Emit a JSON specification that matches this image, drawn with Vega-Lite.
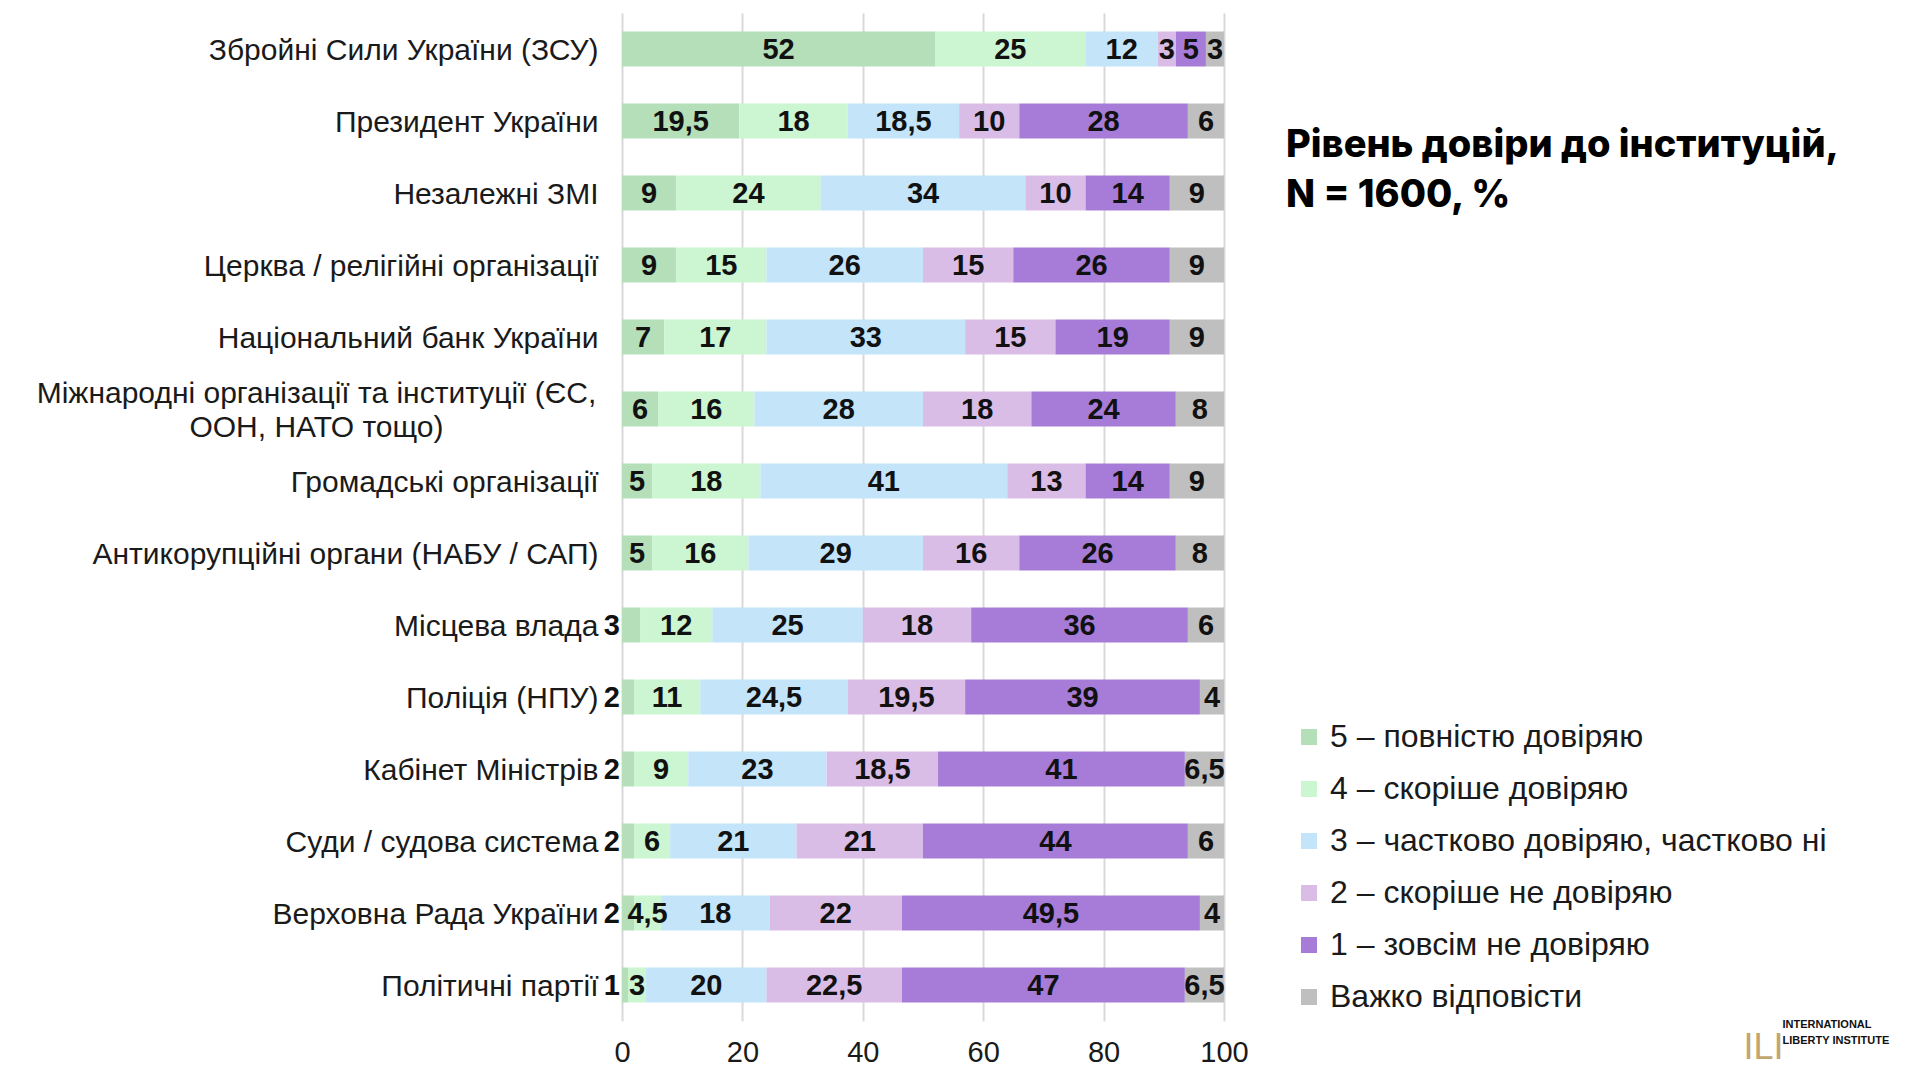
{
  "$schema": "https://vega.github.io/schema/vega-lite/v6.json",
  "autosize": {"type": "none"},
  "padding": {"left": 622, "top": 13, "right": 696, "bottom": 59},
  "width": 602,
  "height": 1008,
  "background": "white",
  "config": {
    "locale": {"number": {"decimal": ",", "thousands": "\u00a0", "grouping": [3], "currency": ["", " ₴"]}},
    "view": {"stroke": null},
    "font": "Liberation Sans"
  },
  "title": {
    "text": ["Рівень довіри до інституцій,", "N = 1600, %"],
    "anchor": "start",
    "frame": "group",
    "orient": "top",
    "baseline": "top",
    "offset": 0,
    "dx": 664,
    "dy": 202,
    "font": "Inter",
    "fontSize": 38,
    "fontWeight": 800,
    "lineHeight": 50,
    "color": "#000000"
  },
  "data": {
    "values": [
      {"inst": "Збройні Сили України (ЗСУ)", "level": "5 – повністю довіряю", "code": 5, "value": 52},
      {"inst": "Збройні Сили України (ЗСУ)", "level": "4 – скоріше довіряю", "code": 4, "value": 25},
      {"inst": "Збройні Сили України (ЗСУ)", "level": "3 – частково довіряю, частково ні", "code": 3, "value": 12},
      {"inst": "Збройні Сили України (ЗСУ)", "level": "2 – скоріше не довіряю", "code": 2, "value": 3},
      {"inst": "Збройні Сили України (ЗСУ)", "level": "1 – зовсім не довіряю", "code": 1, "value": 5},
      {"inst": "Збройні Сили України (ЗСУ)", "level": "Важко відповісти", "code": 0, "value": 3},

      {"inst": "Президент України", "level": "5 – повністю довіряю", "code": 5, "value": 19.5},
      {"inst": "Президент України", "level": "4 – скоріше довіряю", "code": 4, "value": 18},
      {"inst": "Президент України", "level": "3 – частково довіряю, частково ні", "code": 3, "value": 18.5},
      {"inst": "Президент України", "level": "2 – скоріше не довіряю", "code": 2, "value": 10},
      {"inst": "Президент України", "level": "1 – зовсім не довіряю", "code": 1, "value": 28},
      {"inst": "Президент України", "level": "Важко відповісти", "code": 0, "value": 6},

      {"inst": "Незалежні ЗМІ", "level": "5 – повністю довіряю", "code": 5, "value": 9},
      {"inst": "Незалежні ЗМІ", "level": "4 – скоріше довіряю", "code": 4, "value": 24},
      {"inst": "Незалежні ЗМІ", "level": "3 – частково довіряю, частково ні", "code": 3, "value": 34},
      {"inst": "Незалежні ЗМІ", "level": "2 – скоріше не довіряю", "code": 2, "value": 10},
      {"inst": "Незалежні ЗМІ", "level": "1 – зовсім не довіряю", "code": 1, "value": 14},
      {"inst": "Незалежні ЗМІ", "level": "Важко відповісти", "code": 0, "value": 9},

      {"inst": "Церква / релігійні організації", "level": "5 – повністю довіряю", "code": 5, "value": 9},
      {"inst": "Церква / релігійні організації", "level": "4 – скоріше довіряю", "code": 4, "value": 15},
      {"inst": "Церква / релігійні організації", "level": "3 – частково довіряю, частково ні", "code": 3, "value": 26},
      {"inst": "Церква / релігійні організації", "level": "2 – скоріше не довіряю", "code": 2, "value": 15},
      {"inst": "Церква / релігійні організації", "level": "1 – зовсім не довіряю", "code": 1, "value": 26},
      {"inst": "Церква / релігійні організації", "level": "Важко відповісти", "code": 0, "value": 9},

      {"inst": "Національний банк України", "level": "5 – повністю довіряю", "code": 5, "value": 7},
      {"inst": "Національний банк України", "level": "4 – скоріше довіряю", "code": 4, "value": 17},
      {"inst": "Національний банк України", "level": "3 – частково довіряю, частково ні", "code": 3, "value": 33},
      {"inst": "Національний банк України", "level": "2 – скоріше не довіряю", "code": 2, "value": 15},
      {"inst": "Національний банк України", "level": "1 – зовсім не довіряю", "code": 1, "value": 19},
      {"inst": "Національний банк України", "level": "Важко відповісти", "code": 0, "value": 9},

      {"inst": "Міжнародні організації та інституції (ЄС, ООН, НАТО тощо)", "level": "5 – повністю довіряю", "code": 5, "value": 6},
      {"inst": "Міжнародні організації та інституції (ЄС, ООН, НАТО тощо)", "level": "4 – скоріше довіряю", "code": 4, "value": 16},
      {"inst": "Міжнародні організації та інституції (ЄС, ООН, НАТО тощо)", "level": "3 – частково довіряю, частково ні", "code": 3, "value": 28},
      {"inst": "Міжнародні організації та інституції (ЄС, ООН, НАТО тощо)", "level": "2 – скоріше не довіряю", "code": 2, "value": 18},
      {"inst": "Міжнародні організації та інституції (ЄС, ООН, НАТО тощо)", "level": "1 – зовсім не довіряю", "code": 1, "value": 24},
      {"inst": "Міжнародні організації та інституції (ЄС, ООН, НАТО тощо)", "level": "Важко відповісти", "code": 0, "value": 8},

      {"inst": "Громадські організації", "level": "5 – повністю довіряю", "code": 5, "value": 5},
      {"inst": "Громадські організації", "level": "4 – скоріше довіряю", "code": 4, "value": 18},
      {"inst": "Громадські організації", "level": "3 – частково довіряю, частково ні", "code": 3, "value": 41},
      {"inst": "Громадські організації", "level": "2 – скоріше не довіряю", "code": 2, "value": 13},
      {"inst": "Громадські організації", "level": "1 – зовсім не довіряю", "code": 1, "value": 14},
      {"inst": "Громадські організації", "level": "Важко відповісти", "code": 0, "value": 9},

      {"inst": "Антикорупційні органи (НАБУ / САП)", "level": "5 – повністю довіряю", "code": 5, "value": 5},
      {"inst": "Антикорупційні органи (НАБУ / САП)", "level": "4 – скоріше довіряю", "code": 4, "value": 16},
      {"inst": "Антикорупційні органи (НАБУ / САП)", "level": "3 – частково довіряю, частково ні", "code": 3, "value": 29},
      {"inst": "Антикорупційні органи (НАБУ / САП)", "level": "2 – скоріше не довіряю", "code": 2, "value": 16},
      {"inst": "Антикорупційні органи (НАБУ / САП)", "level": "1 – зовсім не довіряю", "code": 1, "value": 26},
      {"inst": "Антикорупційні органи (НАБУ / САП)", "level": "Важко відповісти", "code": 0, "value": 8},

      {"inst": "Місцева влада", "level": "5 – повністю довіряю", "code": 5, "value": 3},
      {"inst": "Місцева влада", "level": "4 – скоріше довіряю", "code": 4, "value": 12},
      {"inst": "Місцева влада", "level": "3 – частково довіряю, частково ні", "code": 3, "value": 25},
      {"inst": "Місцева влада", "level": "2 – скоріше не довіряю", "code": 2, "value": 18},
      {"inst": "Місцева влада", "level": "1 – зовсім не довіряю", "code": 1, "value": 36},
      {"inst": "Місцева влада", "level": "Важко відповісти", "code": 0, "value": 6},

      {"inst": "Поліція (НПУ)", "level": "5 – повністю довіряю", "code": 5, "value": 2},
      {"inst": "Поліція (НПУ)", "level": "4 – скоріше довіряю", "code": 4, "value": 11},
      {"inst": "Поліція (НПУ)", "level": "3 – частково довіряю, частково ні", "code": 3, "value": 24.5},
      {"inst": "Поліція (НПУ)", "level": "2 – скоріше не довіряю", "code": 2, "value": 19.5},
      {"inst": "Поліція (НПУ)", "level": "1 – зовсім не довіряю", "code": 1, "value": 39},
      {"inst": "Поліція (НПУ)", "level": "Важко відповісти", "code": 0, "value": 4},

      {"inst": "Кабінет Міністрів", "level": "5 – повністю довіряю", "code": 5, "value": 2},
      {"inst": "Кабінет Міністрів", "level": "4 – скоріше довіряю", "code": 4, "value": 9},
      {"inst": "Кабінет Міністрів", "level": "3 – частково довіряю, частково ні", "code": 3, "value": 23},
      {"inst": "Кабінет Міністрів", "level": "2 – скоріше не довіряю", "code": 2, "value": 18.5},
      {"inst": "Кабінет Міністрів", "level": "1 – зовсім не довіряю", "code": 1, "value": 41},
      {"inst": "Кабінет Міністрів", "level": "Важко відповісти", "code": 0, "value": 6.5},

      {"inst": "Суди / судова система", "level": "5 – повністю довіряю", "code": 5, "value": 2},
      {"inst": "Суди / судова система", "level": "4 – скоріше довіряю", "code": 4, "value": 6},
      {"inst": "Суди / судова система", "level": "3 – частково довіряю, частково ні", "code": 3, "value": 21},
      {"inst": "Суди / судова система", "level": "2 – скоріше не довіряю", "code": 2, "value": 21},
      {"inst": "Суди / судова система", "level": "1 – зовсім не довіряю", "code": 1, "value": 44},
      {"inst": "Суди / судова система", "level": "Важко відповісти", "code": 0, "value": 6},

      {"inst": "Верховна Рада України", "level": "5 – повністю довіряю", "code": 5, "value": 2},
      {"inst": "Верховна Рада України", "level": "4 – скоріше довіряю", "code": 4, "value": 4.5},
      {"inst": "Верховна Рада України", "level": "3 – частково довіряю, частково ні", "code": 3, "value": 18},
      {"inst": "Верховна Рада України", "level": "2 – скоріше не довіряю", "code": 2, "value": 22},
      {"inst": "Верховна Рада України", "level": "1 – зовсім не довіряю", "code": 1, "value": 49.5},
      {"inst": "Верховна Рада України", "level": "Важко відповісти", "code": 0, "value": 4},

      {"inst": "Політичні партії", "level": "5 – повністю довіряю", "code": 5, "value": 1},
      {"inst": "Політичні партії", "level": "4 – скоріше довіряю", "code": 4, "value": 3},
      {"inst": "Політичні партії", "level": "3 – частково довіряю, частково ні", "code": 3, "value": 20},
      {"inst": "Політичні партії", "level": "2 – скоріше не довіряю", "code": 2, "value": 22.5},
      {"inst": "Політичні партії", "level": "1 – зовсім не довіряю", "code": 1, "value": 47},
      {"inst": "Політичні партії", "level": "Важко відповісти", "code": 0, "value": 6.5}
    ]
  },
  "encoding": {
    "y": {
      "field": "inst",
      "type": "nominal",
      "sort": null,
      "scale": {"paddingInner": 0.514, "paddingOuter": 0.257},
      "axis": {
        "title": "ILI",
        "titleAngle": 0,
        "titleX": 1121,
        "titleY": 1053,
        "titleAlign": "left",
        "titleBaseline": "bottom",
        "titleFont": "Liberation Sans",
        "titleFontSize": 36,
        "titleFontWeight": "normal",
        "titleColor": "#c2a56f",
        "domain": false,
        "ticks": false,
        "labelPadding": {"condition": {"test": "indexof(datum.value, 'Міжнародні') == 0", "value": 306}, "value": 24},
        "labelAlign": {"condition": {"test": "indexof(datum.value, 'Міжнародні') == 0", "value": "center"}, "value": "right"},
        "labelFont": "Liberation Sans",
        "labelFontSize": 30,
        "labelColor": "#1a1a1a",
        "labelLimit": 800,
        "labelLineHeight": 34,
        "labelOffset": {"condition": {"test": "indexof(datum.value, 'Міжнародні') == 0", "value": -15}, "value": 2},
        "labelExpr": "datum.label == 'Міжнародні організації та інституції (ЄС, ООН, НАТО тощо)' ? ['Міжнародні організації та інституції (ЄС,', 'ООН, НАТО тощо)'] : datum.label"
      }
    }
  },
  "layer": [
    {
      "mark": {"type": "bar", "stroke": null},
      "encoding": {
        "x": {
          "field": "value",
          "type": "quantitative",
          "stack": "zero",
          "scale": {"domain": [0, 100], "nice": false},
          "axis": {
            "values": [0, 20, 40, 60, 80, 100],
            "grid": true,
            "gridColor": "#d9d9d9",
            "gridWidth": 2,
            "domain": false,
            "ticks": false,
            "labelFlush": false,
            "labelFont": "Liberation Sans",
            "labelFontSize": 29,
            "labelColor": "#1a1a1a",
            "labelPadding": 17,
            "title": ["INTERNATIONAL", "LIBERTY INSTITUTE"],
            "titleX": 1160,
            "titleY": -3,
            "titleAlign": "left",
            "titleAnchor": null,
            "titleBaseline": "top",
            "titleFont": "Liberation Sans",
            "titleFontSize": 11,
            "titleFontWeight": "bold",
            "titleLineHeight": 16,
            "titleColor": "#111111"
          }
        },
        "color": {
          "field": "level",
          "type": "nominal",
          "scale": {
            "domain": ["5 – повністю довіряю", "4 – скоріше довіряю", "3 – частково довіряю, частково ні", "2 – скоріше не довіряю", "1 – зовсім не довіряю", "Важко відповісти"],
            "range": ["#b4dfb9", "#ccf5d1", "#c3e4f9", "#d9bde6", "#a67cd8", "#bfbfbf"]
          },
          "legend": {
            "title": null,
            "orient": "none",
            "legendX": 671,
            "legendY": 708,
            "symbolType": "square",
            "symbolSize": 256,
            "symbolStrokeWidth": 0,
            "labelFont": "Liberation Sans",
            "labelFontSize": 32,
            "labelColor": "#1a1a1a",
            "labelOffset": 5,
            "labelLimit": 700,
            "rowPadding": 20
          }
        },
        "order": {"field": "code", "sort": "descending"}
      }
    },
    {
      "mark": {"type": "text", "fontWeight": "bold", "fontSize": 29, "font": "Liberation Sans", "color": "#111111", "baseline": "middle", "align": "center", "dy": 1},
      "encoding": {
        "x": {"field": "value", "type": "quantitative", "stack": "zero", "bandPosition": 0.5},
        "detail": {"field": "level"},
        "order": {"field": "code", "sort": "descending"},
        "text": {"field": "value", "type": "quantitative", "format": ".1~f"},
        "opacity": {"condition": {"test": "datum.code == 5 && datum.value <= 3", "value": 0}, "value": 1}
      }
    },
    {
      "transform": [{"filter": "datum.code == 5 && datum.value <= 3"}],
      "mark": {"type": "text", "fontWeight": "bold", "fontSize": 29, "font": "Liberation Sans", "color": "#111111", "baseline": "middle", "align": "right", "dx": -2, "dy": 1},
      "encoding": {
        "x": {"datum": 0, "type": "quantitative"},
        "text": {"field": "value", "type": "quantitative", "format": ".1~f"}
      }
    }
  ]
}
